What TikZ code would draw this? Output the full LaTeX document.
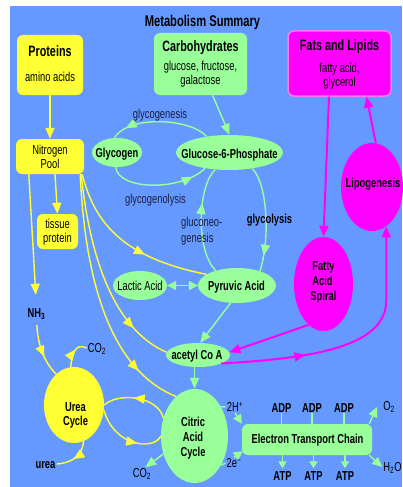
\documentclass[tikz,border=0pt]{standalone}
\usepackage{fontspec}
\setmainfont{Liberation Sans}[FakeStretch=0.72]
\usetikzlibrary{arrows.meta,decorations.markings,calc,shapes.geometric}
\definecolor{bgblue}{RGB}{102,153,255}
\definecolor{lgreen}{RGB}{153,255,153}
\definecolor{yel}{RGB}{255,255,51}
\definecolor{mag}{RGB}{255,0,255}
\definecolor{magb}{RGB}{255,120,255}
\definecolor{txtdark}{RGB}{25,30,60}
\newcommand\myfs{\fontsize{13}{15}\selectfont}
\newcommand\myhd{\fontsize{15}{17}\selectfont\bfseries}
\newcommand\mytt{\fontsize{15.5}{17}\selectfont\bfseries}
\pgfdeclarelayer{fg}
\pgfsetlayers{main,fg}
\begin{document}
\begin{tikzpicture}[x=1pt,y=-1pt,line join=round,
  lbl/.style={inner sep=1pt,text height=9pt,text depth=0pt,font=\myfs},
  lblb/.style={lbl,font=\myfs\bfseries},
  hdl/.style={inner sep=1pt,text height=10.7pt,text depth=0pt,font=\myhd},
  boxshape/.style={rectangle,rounded corners=6pt,inner sep=0pt,draw=none},
  ellshape/.style={ellipse,inner sep=0pt,draw=none},
  yline/.style={draw=yel,line width=1.4pt},
  gline/.style={draw=lgreen,line width=1.4pt},
  mline/.style={draw=mag,line width=2pt},
  endtri/.style={-{Triangle[length=11pt,width=9pt]}},
  midtri/.style={postaction={decorate},decoration={markings,mark=at position #1 with {\arrow{Triangle[length=11pt,width=9pt]}}}}
]
\useasboundingbox (0,0) rectangle (402,487);
\fill[white] (0,0) rectangle (402,487);
\fill[bgblue] (10,6) rectangle (402,487);

% boxes
\node[boxshape,fill=yel,minimum width=66pt,minimum height=60pt] (prot) at (50,65) {};
\node[boxshape,fill=lgreen,minimum width=93pt,minimum height=62pt] (carb) at (200.5,64) {};
\node[boxshape,fill=mag,draw=magb,line width=1.5pt,minimum width=103pt,minimum height=65pt] (fats) at (339.5,63.5) {};
\node[boxshape,fill=yel,minimum width=68pt,minimum height=35pt] (nit) at (50,156.5) {};
\node[boxshape,fill=yel,minimum width=41pt,minimum height=35pt] (tis) at (57.5,231.5) {};
\node[boxshape,fill=lgreen,minimum width=130pt,minimum height=31pt] (etc) at (307,439.5) {};

% ellipses
\node[ellshape,fill=lgreen,minimum width=50pt,minimum height=29pt] (gly) at (117,152.5) {};
\node[ellshape,fill=lgreen,minimum width=107pt,minimum height=35pt] (g6p) at (229.5,152.5) {};
\node[ellshape,fill=lgreen,minimum width=54pt,minimum height=29pt] (lac) at (140,285.5) {};
\node[ellshape,fill=lgreen,minimum width=78pt,minimum height=35pt] (pyr) at (237,285.5) {};
\node[ellshape,fill=lgreen,minimum width=64pt,minimum height=24pt] (ace) at (198,355) {};
\node[ellshape,fill=lgreen,minimum width=67pt,minimum height=94pt] (cit) at (194.5,436) {};
\node[ellshape,fill=yel,minimum width=60pt,minimum height=76pt] (urea) at (74,405) {};
\node[ellshape,fill=mag,minimum width=59pt,minimum height=94pt] (fas) at (323.5,284) {};
\node[ellshape,fill=mag,minimum width=62pt,minimum height=88pt] (lipo) at (372,187) {};

% texts (on top)
\begin{pgfonlayer}{fg}
\node[hdl,font=\mytt] (title) at (202.5,21) {Metabolism Summary};
\node[hdl] (protT) at (50,51) {Proteins};
\node[lbl] (protS) at (50,77) {amino acids};
\node[hdl] (carbT) at (200.5,46) {Carbohydrates};
\node[lbl] (carbS1) at (200.5,66) {glucose, fructose,};
\node[lbl] (carbS2) at (200.5,80) {galactose};
\node[hdl] (fatsT) at (339.5,45) {Fats and Lipids};
\node[lbl] (fatsS1) at (339.5,68) {fatty acid,};
\node[lbl] (fatsS2) at (339.5,82) {glycerol};
\node[lbl] (nitT1) at (50,149.5) {Nitrogen};
\node[lbl] (nitT2) at (50,164) {Pool};
\node[lbl] (tisT1) at (57.5,224) {tissue};
\node[lbl] (tisT2) at (57.5,237.5) {protein};
\node[lblb] (etcT) at (307.5,439) {Electron Transport Chain};
\node[lblb] (glyT) at (117,153) {Glycogen};
\node[lblb] (g6pT) at (229.5,153.5) {Glucose-6-Phosphate};
\node[lbl] (lacT) at (140,285.5) {Lactic Acid};
\node[lblb] (pyrT) at (236.5,285.5) {Pyruvic Acid};
\node[lblb] (aceT) at (197,354.5) {acetyl Co A};
\node[lblb] (citT1) at (193,421.5) {Citric};
\node[lblb] (citT2) at (193,437) {Acid};
\node[lblb] (citT3) at (193,452) {Cycle};
\node[lblb] (ureaT1) at (75.5,406.5) {Urea};
\node[lblb] (ureaT2) at (75.5,420.5) {Cycle};
\node[lblb] (fasT1) at (323.5,266) {Fatty};
\node[lblb] (fasT2) at (322.5,281) {Acid};
\node[lblb] (fasT3) at (323.5,296) {Spiral};
\node[lblb] (lipoT) at (373,183) {Lipogenesis};
\node[lbl,text=txtdark] (lgen) at (160,113.5) {glycogenesis};
\node[lbl,text=txtdark] (llys) at (155.5,199) {glycogenolysis};
\node[lbl,text=txtdark,anchor=west] (lneo1) at (180,222) {gluconeo-};
\node[lbl,text=txtdark,anchor=west] (lneo2) at (180,237.5) {genesis};
\node[lblb] (lglyc) at (269.5,218.5) {glycolysis};
\node[lblb] (nh3) at (36.5,312.5) {NH\textsubscript{3}};
\node[lbl] (co2a) at (97,348) {CO\textsubscript{2}};
\node[lblb] (urealbl) at (45.5,464) {urea};
\node[lbl] (co2b) at (142,473) {CO\textsubscript{2}};
\node[lbl] (h2) at (235,407) {2H\textsuperscript{+}};
\node[lbl] (e2) at (234,463) {2e\textsuperscript{−}};
\node[lbl] (o2) at (389,406) {O\textsubscript{2}};
\node[lbl] (h2o) at (392.5,467) {H\textsubscript{2}O};
\node[lblb] (adp1) at (281.5,407.5) {ADP};
\node[lblb] (adp2) at (312,407.5) {ADP};
\node[lblb] (adp3) at (344,407.5) {ADP};
\node[lblb] (atp1) at (282.5,476) {ATP};
\node[lblb] (atp2) at (313.5,476) {ATP};
\node[lblb] (atp3) at (345,476) {ATP};
\end{pgfonlayer}

% yellow connectors
\draw[yline,endtri] (prot.south) -- (nit.north);
\draw[yline,endtri] ($(nit.south)+(5,0)$) -- (tis.north);
\draw[yline,endtri,shorten >=12pt] ($(nit.south west)+(13,0)$) -- (nh3.north);
\draw[yline,midtri=0.65,shorten <=7pt] (nh3.south) .. controls (38,345) and (44,362) .. (urea.120);
\draw[yline,midtri=0.62] ($(nit.south east)+(-2,0)$) .. controls (95,225) and (125,258) .. (pyr.160);
\draw[yline,midtri=0.8] ($(nit.south east)+(-3,0)$) .. controls (90,260) and (115,330) .. (ace.175);
\draw[yline,midtri=0.82] ($(nit.south east)+(-4,0)$) .. controls (85,280) and (110,370) .. (cit.115);
\draw[yline,midtri=0.6] (urea.95) .. controls (72,352) and (76,343) .. (co2a.west);
\draw[yline,midtri=0.55] (urea.285) .. controls (82,456) and (72,463) .. (urealbl.east);
\draw[yline,midtri=0.55] (cit.150) .. controls (158,396) and (118,392) .. (urea.0);
\draw[yline,midtri=0.65] (urea.350) .. controls (115,448) and (155,450) .. (cit.180);

% green connectors
\draw[gline,endtri] ($(carb.south)+(12,0)$) -- (g6p.north);
\draw[gline,midtri=0.85] (g6p.145) .. controls (190,118) and (128,115) .. (gly.100);
\draw[gline,midtri=0.85] (gly.265) .. controls (118,190) and (180,192) .. (g6p.213);
\draw[gline,midtri=0.85] (g6p.325) .. controls (268,185) and (270,240) .. (pyr.32);
\draw[gline,midtri=0.66] (pyr.145) .. controls (195,250) and (198,185) .. (g6p.230);
\draw[gline,{Triangle[length=9pt,width=9pt]}-{Triangle[length=9pt,width=9pt]}] (lac.east) -- (pyr.west);
\draw[gline,endtri] (pyr.250) -- (ace.80);
\draw[gline,endtri] (ace.south -| cit.north) -- (cit.north);
\draw[gline,endtri] (cit.210) -- (co2b.60);
\draw[gline] (cit.48) -- (h2.west);
\draw[gline,-{Triangle[length=9pt,width=9pt]}] (h2.south) -- (etc.north west);
\draw[gline] (cit.-48) -- (e2.west);
\draw[gline,-{Triangle[length=9pt,width=9pt]}] (e2.north) -- ($(etc.south west)+(1,-4)$);
\draw[gline,-{Triangle[length=10pt,width=9pt]}] ($(etc.north east)+(-3,0)$) -- ($(o2.west)+(-5,1)$);
\draw[gline,-{Triangle[length=10pt,width=9pt]}] ($(etc.south east)+(-3,0)$) -- (h2o.west);
\foreach \a in {adp1,adp2,adp3}{
  \draw[gline] (\a.south) -- (\a.south |- etc.north);
}
\foreach \a in {atp1,atp2,atp3}{
  \draw[gline,-{Triangle[length=7pt,width=8pt]},shorten >=2pt] (\a.north |- etc.south) -- (\a.north);
}

% magenta connectors
\draw[mline,endtri] ($(fats.south)+(-10.5,0)$) -- (fas.north);
\draw[mline,endtri] (lipo.85) -- ($(fats.south)+(27,0)$);
\draw[mline,endtri] (fas.250) -- (ace.5);
\draw[mline,endtri,midtri=0.32] (ace.340) .. controls (320,358) and (386,345) .. ($(lipo.290)+(0,74)$) -- (lipo.290);
\end{tikzpicture}
\end{document}
